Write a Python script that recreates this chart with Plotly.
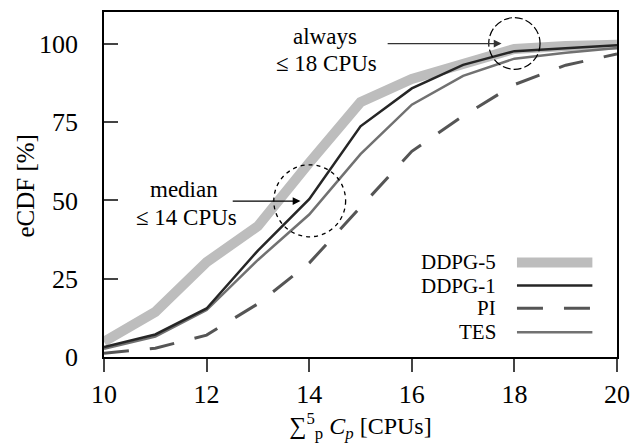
import plotly.graph_objects as go

cpus = [10, 11, 12, 13, 14, 15, 16, 17, 18, 19, 20]
ddpg5 = [4.9, 14.4, 30.3, 41.8, 62.0, 81.4, 88.8, 93.8, 98.4, 99.3, 99.7]
ddpg1 = [3.2, 7.2, 15.5, 34.0, 50.4, 73.7, 85.8, 93.3, 97.7, 98.7, 99.6]
pi = [1.2, 2.8, 7.0, 17.0, 30.0, 48.0, 65.7, 77.0, 87.0, 93.2, 96.8]
tes = [2.6, 6.5, 15.0, 31.0, 45.5, 64.8, 80.6, 89.8, 95.3, 97.2, 98.7]
xticks = [10, 12, 14, 16, 18, 20]
yticks = [0, 25, 50, 75, 100]

FONT = "Liberation Serif"
c5, c1, cpi, ctes = "#bdbdbd", "#262626", "#555555", "#717171"
YR = [0, 110.2]

fig = go.Figure()
fig.add_trace(go.Scatter(x=cpus, y=ddpg5, mode="lines", name="DDPG-5",
                         line=dict(color=c5, width=10)))
fig.add_trace(go.Scatter(x=cpus, y=pi, mode="lines", name="PI", yaxis="y2",
                         line=dict(color=cpi, width=3, dash="25px,21px")))
fig.add_trace(go.Scatter(x=cpus, y=tes, mode="lines", name="TES", yaxis="y2",
                         line=dict(color=ctes, width=2.5)))
fig.add_trace(go.Scatter(x=cpus, y=ddpg1, mode="lines", name="DDPG-1", yaxis="y2",
                         line=dict(color=c1, width=2.5)))

# manual legend (text to the left of line samples)
leg = [("DDPG-5", c5, 10, "solid"), ("DDPG-1", c1, 2.5, "solid"),
       ("PI", cpi, 3, "26px,21px"), ("TES", ctes, 2.5, "solid")]
ys = [0.274, 0.207, 0.141, 0.072]
for (name, col, w, d), yy in zip(leg, ys):
    fig.add_annotation(xref="paper", yref="paper", x=0.769, y=yy, text=name,
                       showarrow=False, xanchor="right", yanchor="middle",
                       font=dict(family=FONT, size=21, color="black"))
    fig.add_shape(type="line", xref="paper", yref="paper", x0=0.805, x1=0.952,
                  y0=yy, y1=yy, line=dict(color=col, width=w, dash=d))

# annotations
tfont = dict(family=FONT, size=23, color="black")
fig.add_annotation(x=11.56, y=53.5, text="median", showarrow=False, font=tfont)
fig.add_annotation(x=11.6, y=44.6, text="≤ 14 CPUs", showarrow=False, font=tfont)
fig.add_annotation(x=14.31, y=102.4, text="always", showarrow=False, font=tfont)
fig.add_annotation(x=14.33, y=93.8, text="≤ 18 CPUs", showarrow=False, font=tfont)
fig.add_annotation(x=13.83, y=49.8, ax=12.48, ay=49.8, axref="x", ayref="y",
                   text="", showarrow=True, arrowhead=2, arrowsize=1.2,
                   arrowwidth=1.3, arrowcolor="black")
fig.add_annotation(x=17.75, y=100.1, ax=15.5, ay=100.1, axref="x", ayref="y",
                   text="", showarrow=True, arrowhead=2, arrowsize=1.2,
                   arrowwidth=1.3, arrowcolor="#333333")
fig.add_shape(type="circle", x0=17.5, x1=18.5, y0=91.9, y1=108.4,
              line=dict(color="black", width=1.2, dash="8px,3px"))
fig.add_shape(type="circle", x0=13.31, x1=14.71, y0=38.4, y1=61.4,
              line=dict(color="black", width=1.3, dash="4px,4px"))

# y-axis title placed explicitly
fig.add_annotation(xref="paper", yref="paper", x=-0.152, y=0.494,
                   text="eCDF [%]", textangle=-90, showarrow=False,
                   xanchor="center", yanchor="middle",
                   font=dict(family=FONT, size=25, color="black"))

fig.update_layout(
    width=640, height=445,
    margin=dict(l=104, r=16, t=10, b=88),
    paper_bgcolor="white", plot_bgcolor="white",
    showlegend=False,
    font=dict(family=FONT, size=24, color="black"),
    yaxis=dict(range=YR, tickvals=yticks, ticks="outside", ticklen=19,
               tickcolor="rgba(0,0,0,0)", showgrid=False, zeroline=False,
               showline=True, linecolor="black", linewidth=1.5, mirror=True,
               tickfont=dict(family=FONT, size=26), automargin=False),
    yaxis2=dict(overlaying="y", side="left", range=YR, tickvals=yticks,
                ticks="inside", ticklen=14, tickcolor="#444", tickwidth=1.5,
                showticklabels=False, showgrid=False, zeroline=False,
                showline=False),
)
fig.update_xaxes(range=[10, 20], tickvals=xticks, ticks="outside", ticklen=13,
                 tickcolor="#444", tickwidth=1.5, showgrid=False, zeroline=False,
                 showline=True, linecolor="black", linewidth=1.5, mirror=True,
                 tickfont=dict(family=FONT, size=26),
                 title=dict(text="∑<sup>5</sup><sub>p</sub> <i>C<sub>p</sub></i> [CPUs]",
                            font=dict(family=FONT, size=24), standoff=2))

fig.write_html("out.html")
